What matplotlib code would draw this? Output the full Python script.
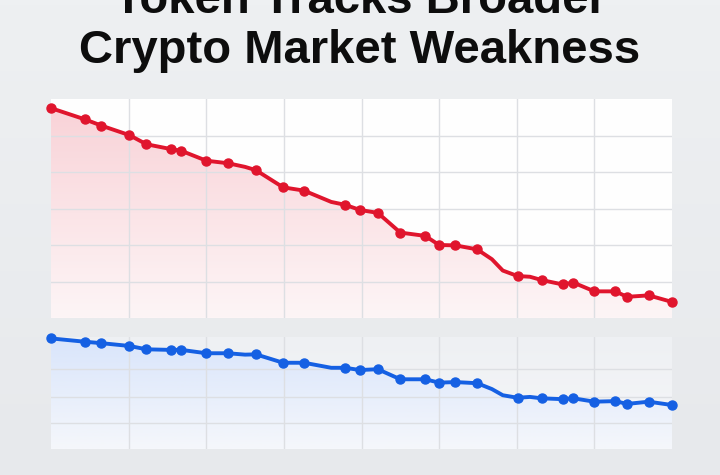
import numpy as np
import matplotlib
matplotlib.use('Agg')
import matplotlib.pyplot as plt
from matplotlib.colors import LinearSegmentedColormap

# dados (eixo x em unidades de grade, sem rótulos)
dias = [0.00, 0.44, 0.65, 1.01, 1.23, 1.54, 1.68, 2.00, 2.28, 2.50, 2.64, 2.99,
        3.26, 3.61, 3.79, 3.98, 4.21, 4.50, 4.82, 5.00, 5.21, 5.49, 5.68, 5.82,
        6.01, 6.17, 6.32, 6.59, 6.73, 7.00, 7.27, 7.42, 7.70, 8.00]
token = [5.75, 5.44, 5.27, 5.01, 4.76, 4.63, 4.58, 4.31, 4.24, 4.14, 4.05, 3.58,
         3.49, 3.18, 3.10, 2.96, 2.88, 2.34, 2.25, 2.00, 1.99, 1.88, 1.61, 1.30,
         1.15, 1.13, 1.04, 0.92, 0.97, 0.73, 0.73, 0.58, 0.62, 0.44]
mercado = [3.95, 3.83, 3.78, 3.68, 3.56, 3.54, 3.54, 3.42, 3.42, 3.37, 3.38, 3.08,
           3.08, 2.90, 2.90, 2.82, 2.85, 2.49, 2.49, 2.37, 2.39, 2.35, 2.14, 1.92,
           1.83, 1.86, 1.81, 1.78, 1.81, 1.69, 1.71, 1.61, 1.69, 1.57]
# pontos que têm marcador (os outros são só quebras da linha)
com_marcador = [True] * 9 + [False] + [True] * 3 + [False] + [True] * 8 + \
               [False, False, True, False] + [True] * 8

titulo = ['Token Tracks Broader', 'Crypto Market Weakness']

vermelho = '#e0152d'
azul = '#1560e3'
cor_grade = '#dddfe3'

fig = plt.figure(figsize=(7.2, 4.75), dpi=100)

# fundo cinza claro
fundo = fig.add_axes([0, 0, 1, 1], zorder=-10)
fundo.imshow(np.linspace(0, 1, 100).reshape(-1, 1), cmap=LinearSegmentedColormap.from_list(
    'bg', ['#eef0f2', '#e7e9ec']), aspect='auto', extent=[0, 1, 0, 1])
fundo.axis('off')

# título em duas linhas (a primeira sai cortada no topo, como no original)
for linha, base in zip(titulo, [1 - 13 / 475, 1 - 63 / 475]):
    fig.text(0.5, base, linha, ha='center', va='baseline', fontsize=34,
             fontweight='bold', family='Liberation Sans', color='#0d0d0d')


def painel(pos, y, cor, cor_fill, ylim, yticks, cor_fundo):
    ax = fig.add_axes(pos)
    ax.set_xlim(0, 8)
    ax.set_ylim(*ylim)
    # fundo do painel
    ax.imshow(np.linspace(0, 1, 100).reshape(-1, 1),
              cmap=LinearSegmentedColormap.from_list('p', cor_fundo),
              aspect='auto', extent=[0, 8, ylim[0], ylim[1]], origin='lower', zorder=0)
    # preenchimento em degradê abaixo da linha
    poly = ax.fill_between(dias, y, ylim[0], color='none', lw=0)
    grad = ax.imshow(np.linspace(0, 1, 100).reshape(-1, 1),
                     cmap=LinearSegmentedColormap.from_list('f', cor_fill),
                     aspect='auto', extent=[0, 8, ylim[0], max(y)], origin='lower', zorder=1)
    grad.set_clip_path(poly.get_paths()[0], transform=ax.transData)
    for xv in range(1, 8):
        ax.axvline(xv, color=cor_grade, lw=1, zorder=2)
    for yv in yticks:
        ax.axhline(yv, color=cor_grade, lw=1, zorder=2)
    ax.plot(dias, y, color=cor, lw=2.8, zorder=4, clip_on=False,
            marker='o', ms=6.5, markevery=com_marcador, solid_joinstyle='round')
    ax.set_xticks([])
    ax.set_yticks([])
    for s in ax.spines.values():
        s.set_visible(False)
    return ax


painel([51 / 720, 1 - 318 / 475, 621 / 720, 219 / 475], token, vermelho,
       ['#fdf5f6', '#f9d3d8'], (0, 6), [1, 2, 3, 4, 5], ['#fefefe', '#ffffff'])
painel([51 / 720, 1 - 449 / 475, 621 / 720, 112 / 475], mercado, azul,
       ['#f5f7fb', '#d9e5fb'], (0, 4), [0.93, 1.86, 2.86], ['#f6f7f9', '#eef0f3'])

plt.savefig('out.png', dpi=100)
